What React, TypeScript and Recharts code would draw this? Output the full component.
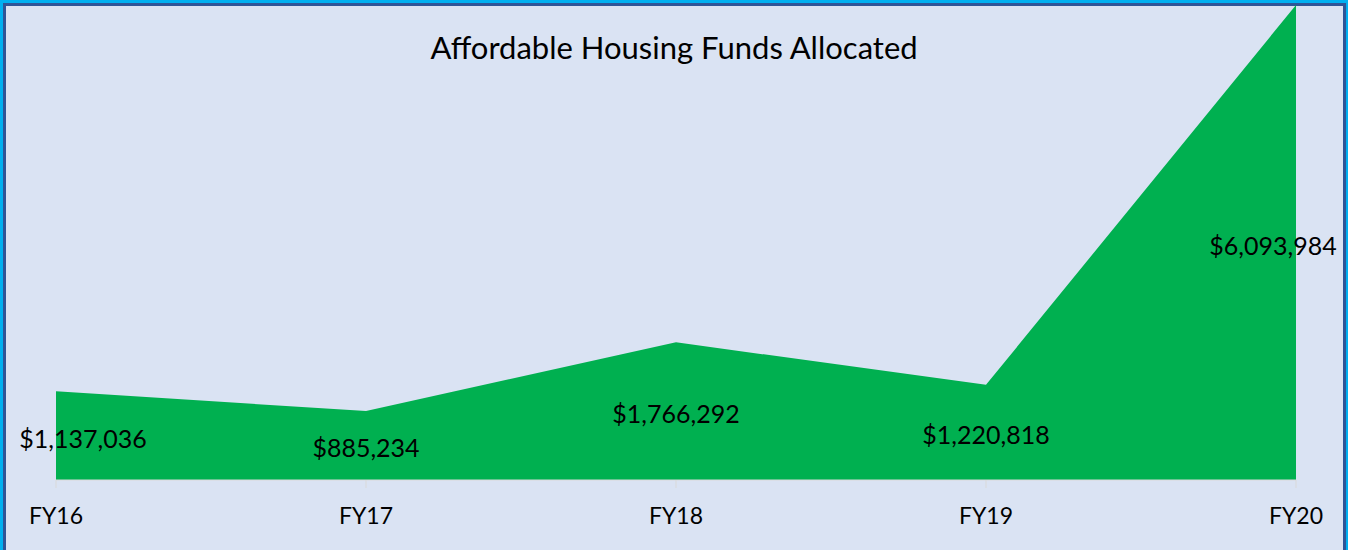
import React from "react";
import { AreaChart, Area, XAxis, YAxis, LabelList } from "recharts";

const years = ["FY16", "FY17", "FY18", "FY19", "FY20"];
const funds = [1137036, 885234, 1766292, 1220818, 6093984];

const data = years.map((year, i) => ({ year, funds: funds[i] }));

const W = 1348;
const H = 550;
const margin = { top: 5, right: 52, bottom: 0, left: 56 };
const axisHeight = 70;
const plotBottom = H - margin.bottom - axisHeight;
const labelFont = "Lato, 'Open Sans', sans-serif";

const money = (v: number) => "$" + v.toLocaleString("en-US");

const FundLabel = (props: any) => {
  const x = props.x ?? props.viewBox?.x;
  const y = props.y ?? props.viewBox?.y;
  const value = props.value;
  if (x == null || y == null || value == null) return null;
  const text = money(Number(value));
  const half = (text.length * 12.8) / 2;
  const left = 19;
  const right = 1337;
  let cx = x;
  if (cx - half < left) cx = left + half;
  if (cx + half > right) cx = right - half;
  const cy = (y + plotBottom) / 2 + 2;
  return (
    <text
      x={cx}
      y={cy}
      textAnchor="middle"
      dominantBaseline="central"
      fill="#000"
      fontSize={25}
      fontFamily={labelFont}
    >
      {text}
    </text>
  );
};

export default function App() {
  return (
    <div
      style={{
        position: "absolute",
        left: 0,
        top: 0,
        width: W,
        height: H,
        background: "#00B0F0",
        overflow: "hidden",
      }}
    >
      <div
        style={{
          position: "absolute",
          left: 3,
          top: 3,
          width: W - 5,
          height: H,
          boxSizing: "border-box",
          border: "3px solid #2F5597",
          background: "#DAE3F3",
        }}
      />
      <div
        style={{
          position: "absolute",
          left: 0,
          top: 28,
          width: W,
          textAlign: "center",
          fontFamily: labelFont,
          fontSize: 31,
          color: "#000",
          lineHeight: "38px",
        }}
      >
        Affordable Housing Funds Allocated
      </div>
      <div style={{ position: "absolute", left: 0, top: 0 }}>
        <AreaChart width={W} height={H} data={data} margin={margin}>
          <XAxis
            dataKey="year"
            height={axisHeight}
            axisLine={{ stroke: "#D9D9D9" }}
            tickLine={{ stroke: "#D9D9D9" }}
            tickSize={8}
            tickMargin={20}
            tick={{ fill: "#000", fontSize: 23, fontFamily: labelFont }}
            interval={0}
          />
          <YAxis hide domain={[0, "dataMax"]} />
          <Area
            type="linear"
            dataKey="funds"
            stroke="none"
            fill="#00B050"
            fillOpacity={1}
            isAnimationActive={false}
          >
            <LabelList dataKey="funds" content={FundLabel} />
          </Area>
        </AreaChart>
      </div>
    </div>
  );
}
